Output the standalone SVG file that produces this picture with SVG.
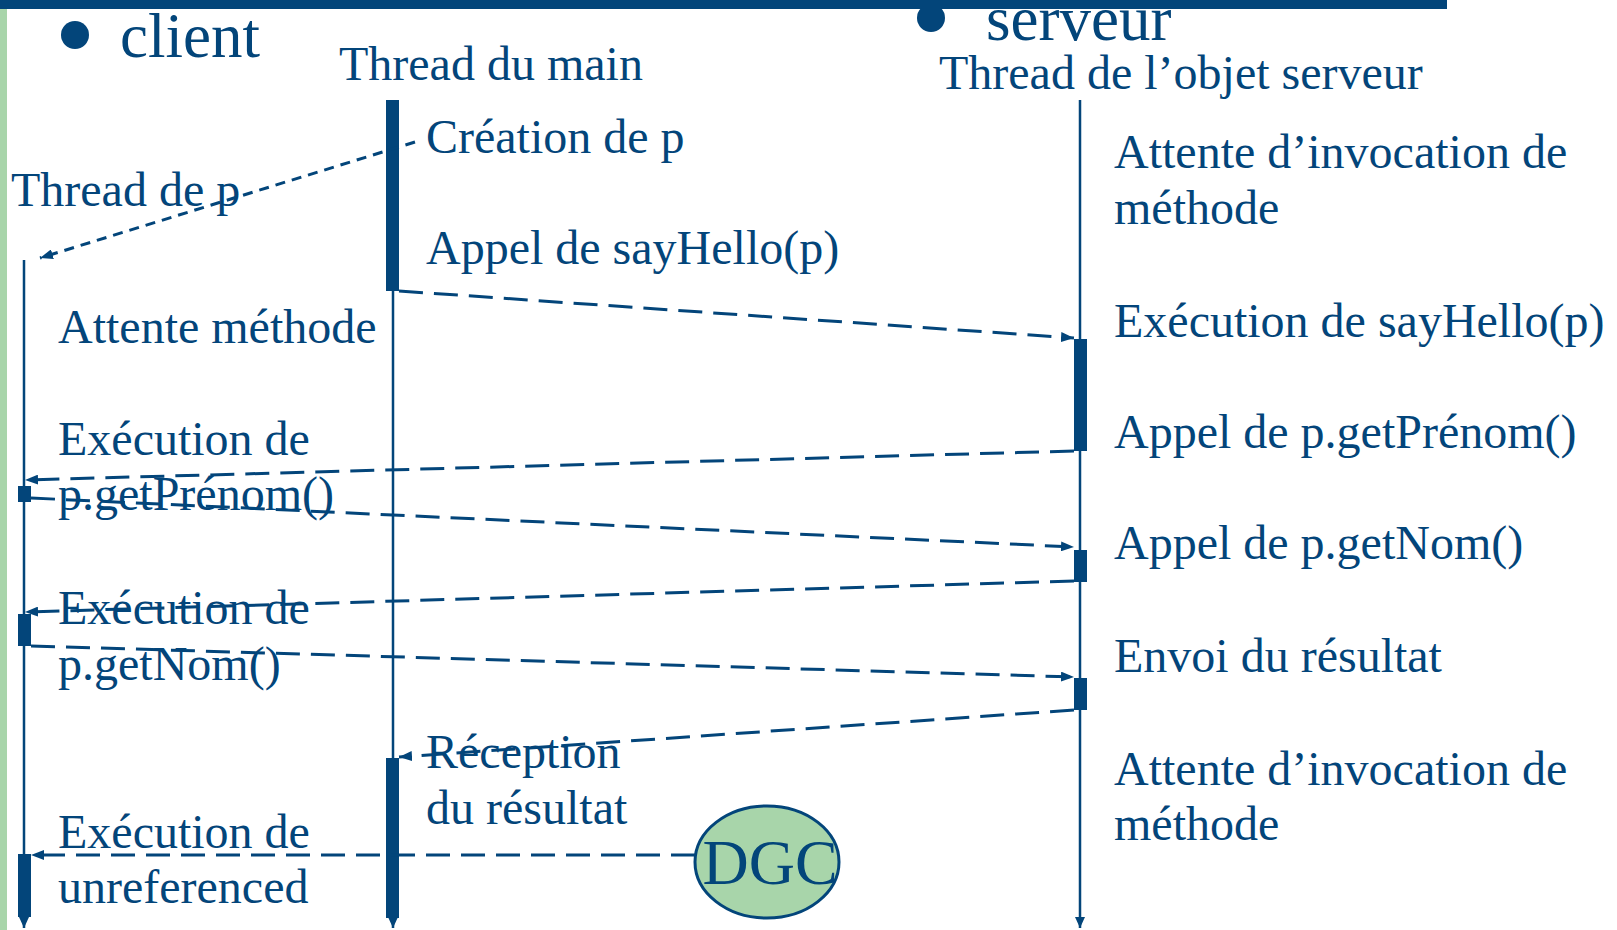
<svg xmlns="http://www.w3.org/2000/svg" width="1617" height="930" viewBox="0 0 1617 930">
<style>
.t{font-family:"Liberation Serif","Times New Roman",serif;font-size:48px;fill:#03457A}
.big{font-size:63px}
.life{stroke:#03457A;stroke-width:2.5;fill:none}
.bar{fill:#03457A}
.msg{stroke:#03457A;stroke-width:3;fill:none;stroke-dasharray:24 11}
.short{stroke-dasharray:10 7}
</style>
<defs>
<marker id="ah" markerUnits="userSpaceOnUse" markerWidth="14" markerHeight="10" refX="13" refY="5" orient="auto">
<path d="M0,0 L13,5 L0,10 z" fill="#03457A"/>
</marker>
<marker id="ad" markerUnits="userSpaceOnUse" markerWidth="12" markerHeight="10" refX="11" refY="5" orient="auto">
<path d="M0,0 L11,5 L0,10 z" fill="#03457A"/>
</marker>
</defs>
<rect x="0" y="0" width="1617" height="930" fill="#FFFFFF"/>
<rect x="0" y="0" width="7" height="930" fill="#A8D5AA"/>
<g id="title-client">
<circle cx="75" cy="35" r="14" fill="#03457A"/>
<text class="t big" x="120" y="57">client</text>
</g>
<g id="title-serveur">
<circle cx="931" cy="18" r="14" fill="#03457A"/>
<text class="t big" x="986" y="40">serveur</text>
</g>
<rect x="0" y="0" width="1447" height="9" fill="#03457A"/>
<g id="lifeline-thread-p">
<line class="life" x1="24" y1="260" x2="24" y2="928" marker-end="url(#ad)"/>
<rect class="bar" x="18" y="486" width="13" height="16"/>
<rect class="bar" x="18" y="614" width="13" height="32"/>
<rect class="bar" x="18" y="854" width="13" height="63"/>
<text class="t" x="11" y="206">Thread de p</text>
</g>
<g id="lifeline-main">
<text class="t" x="339" y="80">Thread du main</text>
<line class="life" x1="393" y1="100" x2="393" y2="928" marker-end="url(#ad)"/>
<rect class="bar" x="386" y="100" width="13" height="191"/>
<rect class="bar" x="386" y="758" width="13" height="160"/>
</g>
<g id="lifeline-serveur">
<text class="t" x="939" y="89">Thread de l’objet serveur</text>
<line class="life" x1="1080" y1="100" x2="1080" y2="928" marker-end="url(#ad)"/>
<rect class="bar" x="1074" y="339" width="13" height="112"/>
<rect class="bar" x="1074" y="550" width="13" height="32"/>
<rect class="bar" x="1074" y="678" width="13" height="32"/>
</g>
<g id="dgc">
<ellipse cx="767" cy="862" rx="72" ry="56" fill="#A8D5AA" stroke="#03457A" stroke-width="3"/>
<text class="t" x="770" y="884" text-anchor="middle" style="font-size:64px">DGC</text>
</g>
<g id="connectors">
<path class="msg short" d="M415,142 L40,258" marker-end="url(#ah)"/>
<path class="msg" d="M399,291 L1074,338" marker-end="url(#ah)"/>
<path class="msg" d="M1074,451 L25,480" marker-end="url(#ah)"/>
<path class="msg" d="M31,498 L1074,547" marker-end="url(#ah)"/>
<path class="msg" d="M1074,581 L25,612" marker-end="url(#ah)"/>
<path class="msg" d="M31,646 L1074,677" marker-end="url(#ah)"/>
<path class="msg" d="M1074,710 L399,757" marker-end="url(#ah)"/>
<path class="msg" d="M695,855 L31,855" marker-end="url(#ah)"/>
</g>
<g id="labels-main">
<text class="t" x="426" y="153">Création de p</text>
<text class="t" x="426" y="264">Appel de sayHello(p)</text>
<text class="t" x="426" y="768">Réception</text>
<text class="t" x="426" y="824">du résultat</text>
</g>
<g id="labels-client">
<text class="t" x="58" y="343">Attente méthode</text>
<text class="t" x="58" y="455">Exécution de</text>
<text class="t" x="58" y="510">p.getPrénom()</text>
<text class="t" x="58" y="624">Exécution de</text>
<text class="t" x="58" y="680">p.getNom()</text>
<text class="t" x="58" y="848">Exécution de</text>
<text class="t" x="58" y="903">unreferenced</text>
</g>
<g id="labels-serveur">
<text class="t" x="1114" y="168">Attente d’invocation de</text>
<text class="t" x="1114" y="224">méthode</text>
<text class="t" x="1114" y="337">Exécution de sayHello(p)</text>
<text class="t" x="1114" y="448">Appel de p.getPrénom()</text>
<text class="t" x="1114" y="559">Appel de p.getNom()</text>
<text class="t" x="1114" y="672">Envoi du résultat</text>
<text class="t" x="1114" y="785">Attente d’invocation de</text>
<text class="t" x="1114" y="840">méthode</text>
</g>
</svg>
